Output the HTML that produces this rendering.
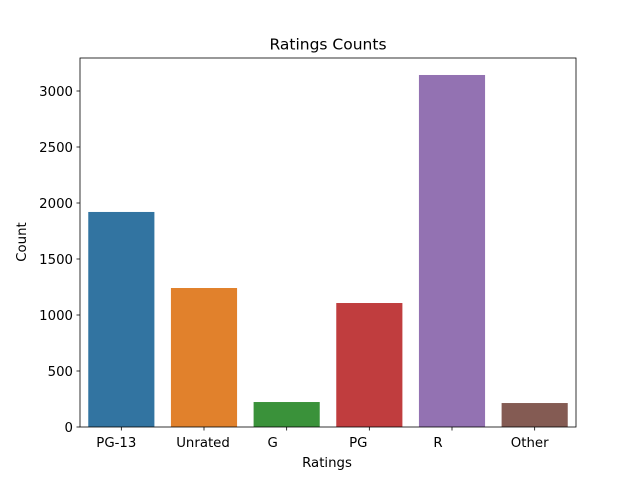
<!DOCTYPE html>
<html><head><meta charset="utf-8"><style>
body{margin:0;background:#fff;}
svg text{font-family:"DejaVu Sans","Liberation Sans",sans-serif;fill:#000;}
</style></head><body>
<svg id="chart" width="640" height="480" xmlns="http://www.w3.org/2000/svg">
<rect width="640" height="480" fill="#fff"/>
<text x="328" y="49.5" font-size="15.5" text-anchor="middle">Ratings Counts</text>
<g id="bars"></g>
<g id="axes"></g>
<rect x="80" y="58" width="496" height="369" fill="none" stroke="#000" stroke-width="0.8"/>
<text x="327" y="467" font-size="13.3" text-anchor="middle">Ratings</text>
<text x="26" y="242" font-size="13.3" text-anchor="middle" transform="rotate(-90 26 242)">Count</text>
</svg>
<script>
const categories = ["PG-13","Unrated","G","PG","R","Other"];
const counts = [1920, 1241, 223, 1107, 3143, 214];
const yTicks = [0, 500, 1000, 1500, 2000, 2500, 3000];
const colors = ["#3274a1","#e1812c","#3a923a","#c03d3e","#9372b2","#845b53"];
const labelDx = [-5, -1, -14, -11, -14, -5];

const L=80, R=576, T=58, B=427;
const yMax = 3000*(B-T)/336;
function yScale(v){ return B - v/yMax*(B-T); }
const band = (R-L)/categories.length;
function xScale(i){ return L + band*(i+0.5); }
const NS="http://www.w3.org/2000/svg";
const bars=document.getElementById('bars'), axes=document.getElementById('axes');
categories.forEach((c,i)=>{
  const w=band*0.8, y=yScale(counts[i]);
  const r=document.createElementNS(NS,'rect');
  r.setAttribute('x',xScale(i)-w/2); r.setAttribute('y',y);
  r.setAttribute('width',w); r.setAttribute('height',B-y);
  r.setAttribute('fill',colors[i]);
  
  
  bars.appendChild(r);
  const t=document.createElementNS(NS,'line');
  t.setAttribute('x1',xScale(i)); t.setAttribute('x2',xScale(i));
  t.setAttribute('y1',B); t.setAttribute('y2',B+3.5); t.setAttribute('stroke','#000'); t.setAttribute('stroke-width','0.8');
  
  
  axes.appendChild(t);
  const lb=document.createElementNS(NS,'text');
  lb.setAttribute('x',xScale(i)+labelDx[i]); lb.setAttribute('y',B+20); lb.setAttribute('font-size','13.3'); lb.setAttribute('text-anchor','middle');
  lb.textContent=c;
  
  
  axes.appendChild(lb);
});
yTicks.forEach(v=>{
  const y=yScale(v);
  const t=document.createElementNS(NS,'line');
  t.setAttribute('x1',L-3.5); t.setAttribute('x2',L); t.setAttribute('y1',y); t.setAttribute('y2',y);
  t.setAttribute('stroke','#000'); t.setAttribute('stroke-width','0.8');
  
  
  axes.appendChild(t);
  const lb=document.createElementNS(NS,'text');
  lb.setAttribute('x',L-7); lb.setAttribute('y',y+5); lb.setAttribute('font-size','13.3'); lb.setAttribute('text-anchor','end');
  lb.textContent=v;
  
  
  axes.appendChild(lb);
});
</script>
</body></html>
